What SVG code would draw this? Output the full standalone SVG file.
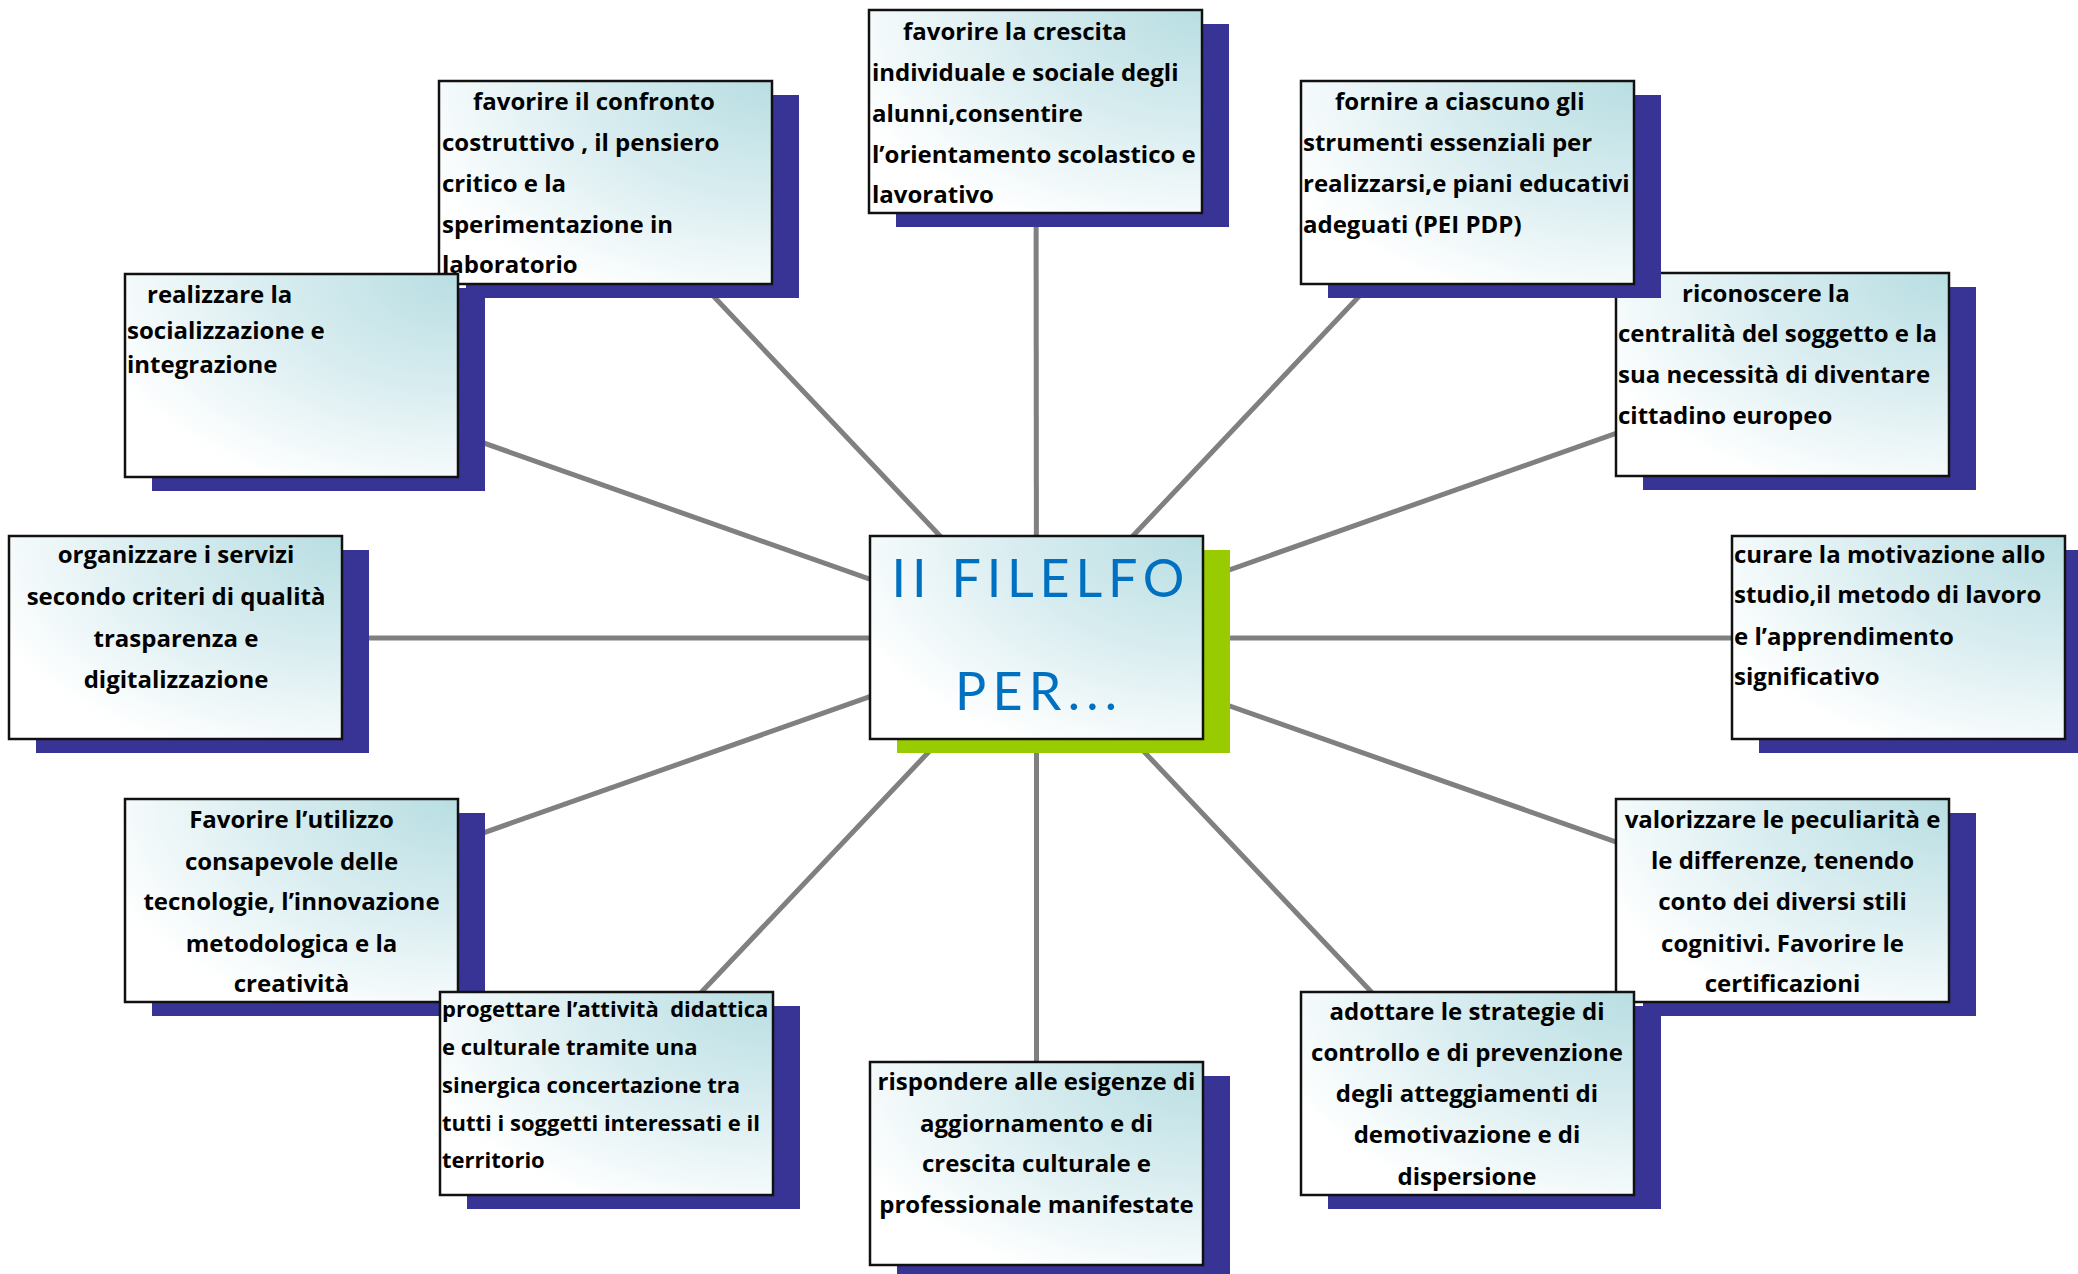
<svg xmlns="http://www.w3.org/2000/svg" width="2078" height="1274" viewBox="0 0 2078 1274">
<defs>
<radialGradient id="boxFill" cx="1" cy="0" r="1.15" fx="1" fy="0">
<stop offset="0" stop-color="#b8dee2"/>
<stop offset="0.5" stop-color="#d9edf0"/>
<stop offset="1" stop-color="#ffffff"/>
</radialGradient>
</defs>
<style>
.sh{fill:#373496}
.shg{fill:#99cc00}
.bx{fill:url(#boxFill);stroke:#111;stroke-width:2.5}
.t{font-family:"Open Sans",Lato,"Liberation Sans",sans-serif;font-weight:700;font-size:24px;fill:#000}
.c{text-anchor:middle}
.ctr{font-family:Lato,"Open Sans","Liberation Sans",sans-serif;font-weight:400;font-size:52px;fill:#0070c0;text-anchor:middle}
.ln{stroke:#808080;stroke-width:5;fill:none}
</style>
<rect width="2078" height="1274" fill="#ffffff"/>
<g id="connectors">
<line class="ln" x1="1036.5" y1="638" x2="1036" y2="111.5"/>
<line class="ln" x1="1036.5" y1="638" x2="605.5" y2="182"/>
<line class="ln" x1="1036.5" y1="638" x2="1467" y2="182"/>
<line class="ln" x1="1036.5" y1="638" x2="291" y2="375"/>
<line class="ln" x1="1036.5" y1="638" x2="1782.5" y2="374.5"/>
<line class="ln" x1="1036.5" y1="638" x2="176" y2="638"/>
<line class="ln" x1="1036.5" y1="638" x2="1898" y2="638"/>
<line class="ln" x1="1036.5" y1="638" x2="291.5" y2="900.5"/>
<line class="ln" x1="1036.5" y1="638" x2="1782.5" y2="900.5"/>
<line class="ln" x1="1036.5" y1="638" x2="606" y2="1093"/>
<line class="ln" x1="1036.5" y1="638" x2="1467" y2="1093"/>
<line class="ln" x1="1036.5" y1="638" x2="1036.5" y2="1163"/>
</g>
<g id="node-crescita">
<rect class="sh" x="896" y="24" width="333" height="203"/>
<rect class="bx" x="869" y="10" width="333" height="203"/>
<text class="t"><tspan x="903" y="40">favorire la crescita</tspan><tspan x="872" y="81">individuale e sociale degli</tspan><tspan x="872" y="122">alunni,consentire</tspan><tspan x="872" y="163">l’orientamento scolastico e</tspan><tspan x="872" y="203">lavorativo</tspan></text>
</g>
<g id="node-centralita">
<rect class="sh" x="1643" y="287" width="333" height="203"/>
<rect class="bx" x="1616" y="273" width="333" height="203"/>
<text class="t"><tspan x="1682" y="302">riconoscere la</tspan><tspan x="1618" y="342">centralità del soggetto e la</tspan><tspan x="1618" y="383">sua necessità di diventare</tspan><tspan x="1618" y="424">cittadino europeo</tspan></text>
</g>
<g id="node-strumenti">
<rect class="sh" x="1328" y="95" width="333" height="203"/>
<rect class="bx" x="1301" y="81" width="333" height="203"/>
<text class="t"><tspan x="1335" y="110">fornire a ciascuno gli</tspan><tspan x="1303" y="151">strumenti essenziali per</tspan><tspan x="1303" y="192">realizzarsi,e piani educativi</tspan><tspan x="1303" y="233">adeguati (PEI PDP)</tspan></text>
</g>
<g id="node-confronto">
<rect class="sh" x="466" y="95" width="333" height="203"/>
<rect class="bx" x="439" y="81" width="333" height="203"/>
<text class="t"><tspan x="473" y="110">favorire il confronto</tspan><tspan x="442" y="151">costruttivo , il pensiero</tspan><tspan x="442" y="192">critico e la</tspan><tspan x="442" y="233">sperimentazione in</tspan><tspan x="442" y="273">laboratorio</tspan></text>
</g>
<g id="node-socializzazione">
<rect class="sh" x="152" y="288" width="333" height="203"/>
<rect class="bx" x="125" y="274" width="333" height="203"/>
<text class="t"><tspan x="147" y="303">realizzare la</tspan><tspan x="127" y="339">socializzazione e</tspan><tspan x="127" y="373">integrazione</tspan></text>
</g>
<g id="node-servizi">
<rect class="sh" x="36" y="550" width="333" height="203"/>
<rect class="bx" x="9" y="536" width="333" height="203"/>
<text class="t c"><tspan x="176" y="563">organizzare i servizi</tspan><tspan x="176" y="605">secondo criteri di qualità</tspan><tspan x="176" y="647">trasparenza e</tspan><tspan x="176" y="688">digitalizzazione</tspan></text>
</g>
<g id="node-motivazione">
<rect class="sh" x="1759" y="550" width="333" height="203"/>
<rect class="bx" x="1732" y="536" width="333" height="203"/>
<text class="t"><tspan x="1734" y="563">curare la motivazione allo</tspan><tspan x="1734" y="603">studio,il metodo di lavoro</tspan><tspan x="1734" y="645">e l’apprendimento</tspan><tspan x="1734" y="685">significativo</tspan></text>
</g>
<g id="node-tecnologie">
<rect class="sh" x="152" y="813" width="333" height="203"/>
<rect class="bx" x="125" y="799" width="333" height="203"/>
<text class="t c"><tspan x="291.5" y="828">Favorire l’utilizzo</tspan><tspan x="291.5" y="870">consapevole delle</tspan><tspan x="291.5" y="910">tecnologie, l’innovazione</tspan><tspan x="291.5" y="952">metodologica e la</tspan><tspan x="291.5" y="992">creatività</tspan></text>
</g>
<g id="node-progettare">
<rect class="sh" x="467" y="1006" width="333" height="203"/>
<rect class="bx" x="440" y="992" width="333" height="203"/>
<text class="t" style="white-space:pre;font-size:22px"><tspan x="442" y="1017">progettare l’attività  didattica</tspan><tspan x="442" y="1055">e culturale tramite una</tspan><tspan x="442" y="1093">sinergica concertazione tra</tspan><tspan x="442" y="1131">tutti i soggetti interessati e il</tspan><tspan x="442" y="1168">territorio</tspan></text>
</g>
<g id="node-peculiarita">
<rect class="sh" x="1643" y="813" width="333" height="203"/>
<rect class="bx" x="1616" y="799" width="333" height="203"/>
<text class="t c"><tspan x="1782.5" y="828">valorizzare le peculiarità e</tspan><tspan x="1782.5" y="869">le differenze, tenendo</tspan><tspan x="1782.5" y="910">conto dei diversi stili</tspan><tspan x="1782.5" y="952">cognitivi. Favorire le</tspan><tspan x="1782.5" y="992">certificazioni</tspan></text>
</g>
<g id="node-strategie">
<rect class="sh" x="1328" y="1006" width="333" height="203"/>
<rect class="bx" x="1301" y="992" width="333" height="203"/>
<text class="t c"><tspan x="1467" y="1020">adottare le strategie di</tspan><tspan x="1467" y="1061">controllo e di prevenzione</tspan><tspan x="1467" y="1102">degli atteggiamenti di</tspan><tspan x="1467" y="1143">demotivazione e di</tspan><tspan x="1467" y="1185">dispersione</tspan></text>
</g>
<g id="node-aggiornamento">
<rect class="sh" x="897" y="1076" width="333" height="203"/>
<rect class="bx" x="870" y="1062" width="333" height="203"/>
<text class="t c"><tspan x="1036.5" y="1090">rispondere alle esigenze di</tspan><tspan x="1036.5" y="1132">aggiornamento e di</tspan><tspan x="1036.5" y="1172">crescita culturale e</tspan><tspan x="1036.5" y="1213">professionale manifestate</tspan></text>
</g>
<g id="node-center">
<rect class="shg" x="897" y="550" width="333" height="203"/>
<rect class="bx" x="870" y="536" width="333" height="203"/>
<text class="ctr"><tspan x="1038" y="597" textLength="293" lengthAdjust="spacing">II FILELFO</tspan><tspan x="1036" y="710" textLength="162" lengthAdjust="spacing">PER...</tspan></text>
</g>
</svg>
